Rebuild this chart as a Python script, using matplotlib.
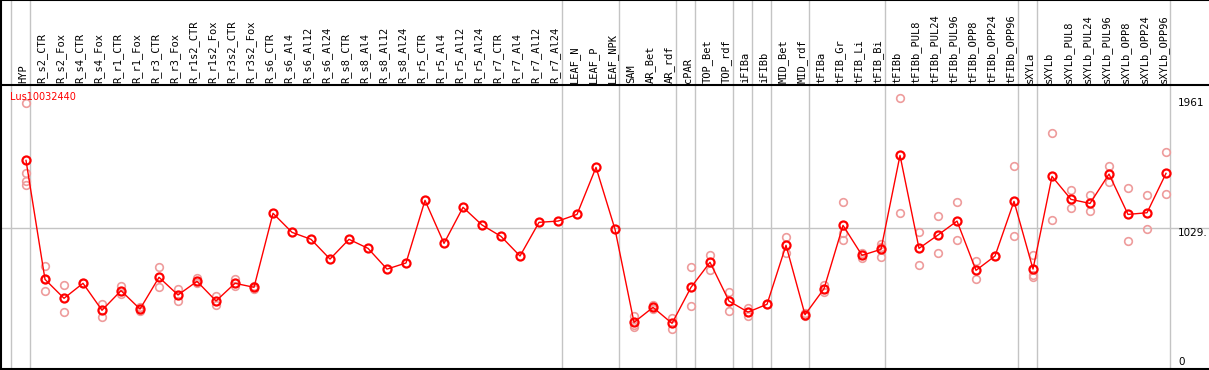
import matplotlib
matplotlib.use("Agg")
import matplotlib.pyplot as plt
import numpy as np

gene = "Lus10032440"

samples = ["HYP", "R_s2_CTR", "R_s2_Fox", "R_s4_CTR", "R_s4_Fox", "R_r1_CTR", "R_r1_Fox",
           "R_r3_CTR", "R_r3_Fox", "R_r1s2_CTR", "R_r1s2_Fox", "R_r3s2_CTR", "R_r3s2_Fox",
           "R_s6_CTR", "R_s6_Al4", "R_s6_Al12", "R_s6_Al24", "R_s8_CTR", "R_s8_Al4",
           "R_s8_Al12", "R_s8_Al24", "R_r5_CTR", "R_r5_Al4", "R_r5_Al12", "R_r5_Al24",
           "R_r7_CTR", "R_r7_Al4", "R_r7_Al12", "R_r7_Al24", "LEAF_N", "LEAF_P", "LEAF_NPK",
           "SAM", "AR_Bet", "AR_rdf", "cPAR", "TOP_Bet", "TOP_rdf", "iFIBa", "iFIBb",
           "MID_Bet", "MID_rdf", "tFIBa", "tFIB_Gr", "tFIB_Li", "tFIB_Bi", "tFIBb",
           "tFIBb_PUL8", "tFIBb_PUL24", "tFIBb_PUL96", "tFIBb_OPP8", "tFIBb_OPP24",
           "tFIBb_OPP96", "sXYLa", "sXYLb", "sXYLb_PUL8", "sXYLb_PUL24", "sXYLb_PUL96",
           "sXYLb_OPP8", "sXYLb_OPP24", "sXYLb_OPP96"]

# group sizes (grey separators between groups)
group_sizes = [1, 28, 3, 3, 1, 2, 1, 1, 2, 4, 7, 1, 7]

means = [1515, 660, 524, 632, 438, 579, 447, 675, 548, 646, 505, 632, 603,
         1135, 998, 948, 806, 948, 883, 734, 778, 1228, 919, 1178, 1051,
         969, 828, 1070, 1079, 1127, 1465, 1020,
         351, 459, 344, 603, 783, 504, 425, 481, 905, 406, 593, 1048, 833, 876,
         1551, 883, 979, 1079, 725, 828, 1221, 734, 1400, 1235, 1206, 1417,
         1127, 1139, 1422]

replicates = [[1929, 1422, 1369, 1338], [754, 574, 660], [617, 423], [632], [483, 392],
              [615, 555], [464, 435], [749, 603], [589, 502], [668, 632], [538, 474],
              [660, 612], [589, 610],
              [], [], [], [], [], [], [], [], [], [], [], [], [], [], [], [], [], [], [],
              [397, 315, 332], [476, 447], [382, 306], [749, 466], [833, 727], [567, 430],
              [452, 399], [481], [964, 847], [416, 397], [619, 569], [1214, 991, 941],
              [813, 847], [916, 818, 895], [1961, 1135], [998, 763], [1115, 847],
              [1214, 941], [790, 660], [828], [1472, 969], [837, 689, 675], [1712, 1084],
              [1302, 1171], [1264, 1151], [1472, 1357], [1314, 933], [1264, 1020],
              [1573, 1271]]

y_max = 1961
y_mid = 1029

W, H = 1209, 370
fig = plt.figure(figsize=(W / 100, H / 100), dpi=100)
xlim = (-10 / 19, 1198 / 19)
grey = "#c4c4c4"

head = fig.add_axes([1 / W, 1 - 85 / H, 1 - 1 / W, 85 / H])
ax = fig.add_axes([1 / W, 1 / H, 1 - 1 / W, 284 / H])

bounds = np.concatenate([[0], np.cumsum(group_sizes)])

# header with rotated sample names
head.set_xlim(*xlim)
head.set_ylim(85, 0)
head.set_xticks([])
head.set_yticks([])
for s in ["bottom", "right"]:
    head.spines[s].set_visible(False)
for s in ["top", "left"]:
    head.spines[s].set_linewidth(1.5)
for b in bounds:
    head.axvline(b, color=grey, lw=1)
for i, name in enumerate(samples):
    head.text(i + 0.63, 83, name, rotation=90, ha="center", va="bottom",
              family="DejaVu Sans Mono", fontsize=7.5)

# main plot
x = np.arange(len(samples)) + 0.79
ax.set_xlim(*xlim)
ax.set_ylim(16, 2057)
ax.set_xticks([])
ax.set_yticks([])
ax.spines["right"].set_visible(False)
for s in ["top", "left", "bottom"]:
    ax.spines[s].set_linewidth(1.5)
for b in bounds:
    ax.axvline(b, color=grey, lw=1, zorder=1)
ax.axhline(y_mid, color=grey, lw=1, zorder=1)

for xi, reps in zip(x, replicates):
    ax.plot([xi] * len(reps), reps, "o", ms=5.5, mfc="none", mec="#ee9c9c", mew=1.2, zorder=2)
ax.plot(x, means, "-", color="red", lw=1, zorder=3)
ax.plot(x, means, "o", ms=5.8, mfc="none", mec="red", mew=1.6, zorder=4)

ax.text(9 / W, 0.975, gene, transform=ax.transAxes, color="red", fontsize=7,
        ha="left", va="top")
xr = (1178 - 11) / 19
ax.text(xr, y_max, str(y_max), fontsize=7.5, ha="left", va="top")
ax.text(xr, y_mid, "1029.", fontsize=7.5, ha="left", va="top")
ax.text(xr, 30, "0", fontsize=7.5, ha="left", va="bottom")

fig.savefig("out.png", dpi=100)
